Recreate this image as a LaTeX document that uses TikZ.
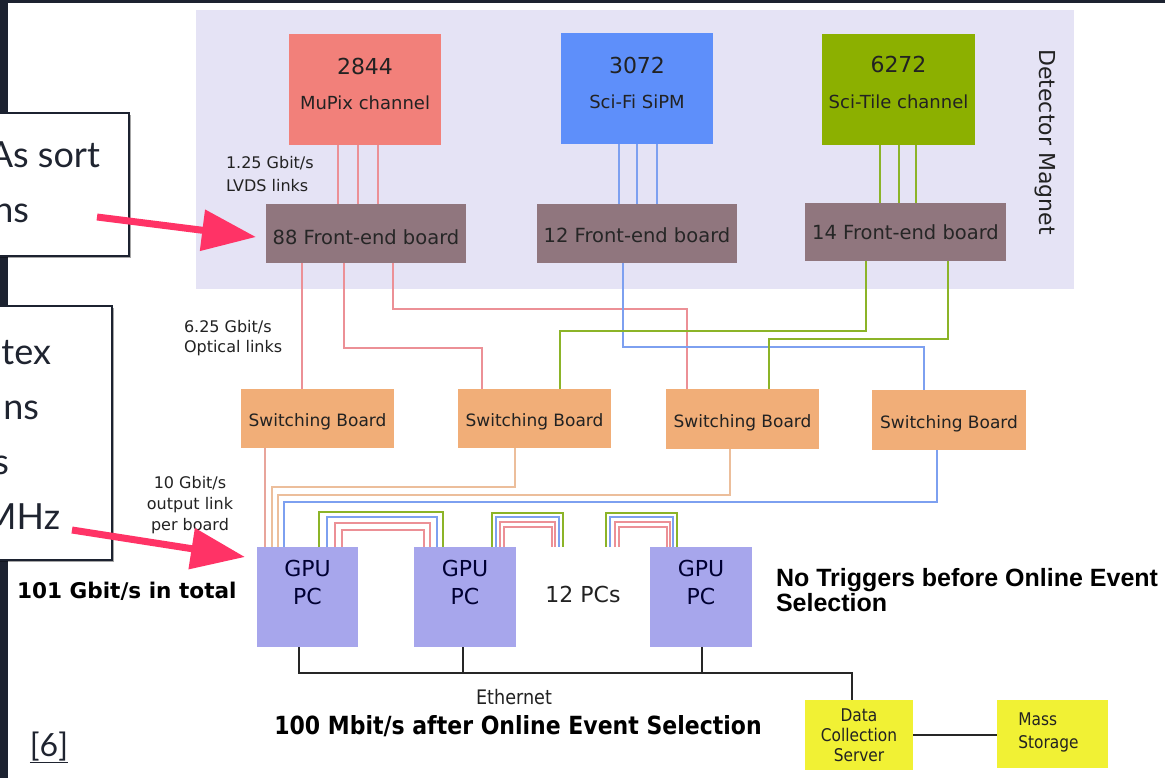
\documentclass[tikz,border=0pt]{standalone}
\usepackage{fontspec}
\setmainfont{DejaVu Sans}
\newfontfamily\latofont{Lato}
\newfontfamily\condfont[FakeStretch=0.88]{DejaVu Sans}
\newfontfamily\arialfont{Liberation Sans}
\usetikzlibrary{calc,arrows.meta,shadows}

\definecolor{slidedark}{HTML}{1C2230}
\definecolor{slidetext}{HTML}{1F2430}
\definecolor{magnetbg}{HTML}{E5E3F5}
\definecolor{mupixc}{HTML}{F2807A}
\definecolor{scific}{HTML}{5E8FFA}
\definecolor{scitilec}{HTML}{8CB000}
\definecolor{febc}{HTML}{90767E}
\definecolor{sbc}{HTML}{F1AE78}
\definecolor{gpuc}{HTML}{A7A6EC}
\definecolor{storec}{HTML}{F1F134}
\definecolor{pinkln}{HTML}{EC9096}
\definecolor{blueln}{HTML}{7DA0F0}
\definecolor{greenln}{HTML}{8CB428}
\definecolor{peachln}{HTML}{ECBE9B}
\definecolor{salmonln}{HTML}{E8A59B}
\definecolor{arrowpink}{HTML}{FF3366}
\definecolor{txtdark}{HTML}{222222}

\newcommand\fsz[2]{\fontsize{#1}{#2}\selectfont}

\begin{document}
\begin{tikzpicture}[x=1pt,y=-1pt,
  blk/.style={rectangle,draw=none,inner sep=0pt,outer sep=0pt},
  lbl/.style={inner sep=0pt,outer sep=0pt,text=txtdark},
  ln/.style={line width=2pt},
  eth/.style={line width=2.4pt,draw=black!85},
  callout/.style={rectangle,draw=slidedark,line width=1.4pt,fill=white,
    inner sep=0pt,outer sep=0pt,
    drop shadow={shadow xshift=2pt,shadow yshift=-2pt,opacity=0.35,fill=black}},
  slide/.style={inner sep=0pt,outer sep=0pt,text=slidetext,font=\latofont\fsz{36}{44}},
  pinkarrow/.style={draw=arrowpink,line width=7pt,-{Triangle[length=54pt,width=40pt]}}
]
\useasboundingbox (0,0) rectangle (1165,778);
\fill[white] (0,0) rectangle (1165,778);
\fill[slidedark] (0,0) rectangle (8,778);
\fill[slidedark] (0,0) rectangle (1165,3);

% detector magnet area
\fill[magnetbg] (196,10) rectangle (1074,289);
\node[lbl,rotate=-90,font=\fsz{22}{26}] (magnet) at (1045,142) {Detector Magnet};

% sub-detector channels
\node[blk,fill=mupixc,minimum width=152pt,minimum height=111pt] (mupix) at (365,89.5) {};
\node[blk,fill=scific,minimum width=152pt,minimum height=111pt] (scifi) at (637,88.5) {};
\node[blk,fill=scitilec,minimum width=153pt,minimum height=111pt] (scitile) at (898.5,89.5) {};
\node[lbl,anchor=base,font=\fsz{22}{26}] (mupixn) at (365,75) {2844};
\node[lbl,anchor=base,font=\fsz{18}{22}] (mupixt) at (365,110) {MuPix channel};
\node[lbl,anchor=base,font=\fsz{22}{26}] (scifin) at (637,74) {3072};
\node[lbl,anchor=base,font=\fsz{18}{22}] (scifit) at (637,109) {Sci-Fi SiPM};
\node[lbl,anchor=base,font=\fsz{22}{26}] (scitilen) at (898.5,73) {6272};
\node[lbl,anchor=base,font=\fsz{18}{22}] (scitilet) at (898.5,109) {Sci-Tile channel};

% front-end boards
\node[blk,fill=febc,minimum width=200pt,minimum height=59pt] (feb88) at (366,233.5) {};
\node[blk,fill=febc,minimum width=200pt,minimum height=59pt] (feb12) at (637,233.5) {};
\node[blk,fill=febc,minimum width=201pt,minimum height=58pt] (feb14) at (905.5,232) {};
\node[lbl,anchor=base,font=\fsz{19.5}{23},text=black!85] (feb88t) at (366,244) {88 Front-end board};
\node[lbl,anchor=base,font=\fsz{19.5}{23},text=black!85] (feb12t) at (637,243) {12 Front-end board};
\node[lbl,anchor=base,font=\fsz{19.5}{23},text=black!85] (feb14t) at (905.5,240) {14 Front-end board};

% switching boards
\node[blk,fill=sbc,minimum width=153pt,minimum height=59pt] (sb1) at (317.5,418.5) {};
\node[blk,fill=sbc,minimum width=153pt,minimum height=59pt] (sb2) at (534.5,418.5) {};
\node[blk,fill=sbc,minimum width=153pt,minimum height=60pt] (sb3) at (742.5,419) {};
\node[blk,fill=sbc,minimum width=154pt,minimum height=60pt] (sb4) at (949,420) {};
\foreach \s in {sb1,sb2,sb3,sb4}
  \node[lbl,anchor=base,font=\fsz{17}{21}] (\s t) at ($(\s.center)+(0,8)$) {Switching Board};

% GPU filter farm
\node[blk,fill=gpuc,minimum width=101pt,minimum height=100pt] (gpu1) at (307.5,597) {};
\node[blk,fill=gpuc,minimum width=102pt,minimum height=100pt] (gpu2) at (465,597) {};
\node[blk,fill=gpuc,minimum width=102pt,minimum height=100pt] (gpu3) at (701,597) {};
\foreach \g in {gpu1,gpu2,gpu3}
  \node[lbl,align=center,font=\fsz{22}{28},text=black!80!blue] (\g t) at ($(\g.center)+(0,-15)$) {GPU\\PC};
\node[lbl,anchor=base,font=\fsz{22}{26}] (pcs) at (583,602) {12 PCs};

% storage
\node[blk,fill=storec,minimum width=108pt,minimum height=70pt] (dcs) at (859,735) {};
\node[blk,fill=storec,minimum width=111pt,minimum height=68pt] (mass) at (1052.5,734) {};
\node[lbl,align=center,font=\condfont\fsz{17.5}{20}] (dcst) at (dcs.center) {Data\\Collection\\Server};
\node[lbl,align=left,font=\condfont\fsz{17.5}{23}] (masst) at ($(mass.center)+(-4,-2)$) {Mass\\Storage};

% detector links to front-end boards
\foreach \dx in {-27,-7,13} {
  \coordinate (t) at ($(mupix.south)+(\dx,0)$);
  \draw[ln,pinkln] (t) -- (t |- feb88.north);
}
\foreach \dx in {-18,0,20} {
  \coordinate (t) at ($(scifi.south)+(\dx,0)$);
  \draw[ln,blueln] (t) -- (t |- feb12.north);
}
\foreach \dx in {-18.5,0.5,17.5} {
  \coordinate (t) at ($(scitile.south)+(\dx,0)$);
  \draw[ln,greenln] (t) -- (t |- feb14.north);
}

% optical links to switching boards
\coordinate (o1) at ($(feb88.south)+(-64,0)$);
\draw[ln,pinkln] (o1) -- (o1 |- sb1.north);
\draw[ln,pinkln] ($(feb88.south)+(-22,0)$) |- ($(sb2.north)+(-52.5,-41)$) -- ($(sb2.north)+(-52.5,0)$);
\draw[ln,pinkln] ($(feb88.south)+(27,0)$) |- ($(sb3.north)+(-55.5,-80)$) -- ($(sb3.north)+(-55.5,0)$);
\draw[ln,blueln] ($(feb12.south)+(-14,0)$) |- ($(sb4.north)+(-25,-43)$) -- ($(sb4.north)+(-25,0)$);
\draw[ln,greenln] ($(feb14.south)+(-39.5,0)$) |- ($(sb2.north)+(25.5,-58)$) -- ($(sb2.north)+(25.5,0)$);
\draw[ln,greenln] ($(feb14.south)+(42.5,0)$) |- ($(sb3.north)+(26.5,-50)$) -- ($(sb3.north)+(26.5,0)$);

% output links to the GPU PCs
\coordinate (u1) at ($(sb1.south)+(-52.5,0)$);
\draw[ln,salmonln] (u1) -- (u1 |- gpu1.north);
\draw[ln,peachln] ($(sb2.south)+(-19.5,0)$) |- ($(gpu1.north)+(-35.5,-60)$) -- ($(gpu1.north)+(-35.5,0)$);
\draw[ln,peachln] ($(sb3.south)+(-12.5,0)$) |- ($(gpu1.north)+(-29.5,-52)$) -- ($(gpu1.north)+(-29.5,0)$);
\draw[ln,blueln] ($(sb4.south)+(-12,0)$) |- ($(gpu1.north)+(-23.5,-45)$) -- ($(gpu1.north)+(-23.5,0)$);

% links between the GPU PCs
\foreach \c/\l/\t/\r in {greenln/11.5/-35/-22,blueln/19.5/-30/-28,pinkln/27.5/-24/-35,pinkln/34.5/-17/-41}
  \draw[ln,draw=\c] ($(gpu1.north)+(\l,0)$) |- ($(gpu2.north)+(\r,\t)$) -- ($(gpu2.north)+(\r,0)$);
\foreach \c/\l/\t/\r in {greenln/27/-34/98,blueln/31/-30/94,pinkln/35/-25/90,pinkln/39/-20/87}
  \draw[ln,draw=\c] ($(gpu2.north)+(\l,0)$) |- ($(gpu2.north)+(\r,\t)$) -- ($(gpu2.north)+(\r,0)$);
\foreach \c/\l/\t/\r in {greenln/-95/-34/-24,blueln/-91/-30/-28,pinkln/-86/-25/-31,pinkln/-82/-20/-34}
  \draw[ln,draw=\c] ($(gpu3.north)+(\l,0)$) |- ($(gpu3.north)+(\r,\t)$) -- ($(gpu3.north)+(\r,0)$);

% ethernet
\draw[eth] ($(gpu1.south)+(-8.5,0)$) |- ($(dcs.north)+(-7,-27)$) -- ($(dcs.north)+(-7,0)$);
\draw[eth] ($(gpu2.south)+(-2,0)$) -- ($(gpu2.south)+(-2,26)$);
\draw[eth] ($(gpu3.south)+(1,0)$) -- ($(gpu3.south)+(1,26)$);
\draw[eth] (dcs.east) -- (dcs.east -| mass.west);

% link annotations
\node[lbl,anchor=west,align=left,font=\fsz{16}{23}] (lvds) at (226,174) {1.25 Gbit/s\\LVDS links};
\node[lbl,anchor=west,align=left,font=\fsz{16}{20.5}] (optical) at (184,338) {6.25 Gbit/s\\Optical links};
\node[lbl,align=center,font=\fsz{16}{21}] (outlink) at (190,505) {10 Gbit/s\\output link\\per board};
\node[lbl,anchor=base west,font=\bfseries\fsz{21.6}{25},text=black] (total) at (17,598) {101 Gbit/s in total};
\node[lbl,anchor=west,align=left,font=\arialfont\bfseries\fsz{25}{25.5},text=black] (notrig) at (776,590) {No Triggers before Online Event\\Selection};
\node[lbl,anchor=base,font=\condfont\fsz{20}{24}] (ethl) at (514,704) {Ethernet};
\node[lbl,anchor=base,font=\condfont\bfseries\fsz{25}{29},text=black] (rate) at (518,734) {100 Mbit/s after Online Event Selection};

% slide notes
\node[callout,minimum width=149pt,minimum height=143pt] (note1) at (54.5,184.5) {};
\node[slide,anchor=base east] (n1a) at (100,168) {As sort};
\node[slide,anchor=base east] (n1b) at (29,223) {ns};
\node[callout,minimum width=132pt,minimum height=254pt] (note2) at (46,433) {};
\node[slide,anchor=base east] (n2a) at (51,364) {tex};
\node[slide,anchor=base east] (n2b) at (39,419) {ns};
\node[slide,anchor=base east] (n2c) at (9,474) {s};
\node[slide,anchor=base east] (n2d) at (60,529) {MHz};
\node[slide,anchor=base,font=\latofont\fsz{32}{38}] (ref) at (49,756) {\underline{[6]}};

% pointers
\coordinate (p1s) at (97,217);
\coordinate (p1e) at (256,237);
\draw[pinkarrow] (p1s) -- (p1e);
\coordinate (p2s) at (72,530);
\coordinate (p2e) at (245,557);
\draw[pinkarrow] (p2s) -- (p2e);
\end{tikzpicture}
\end{document}
